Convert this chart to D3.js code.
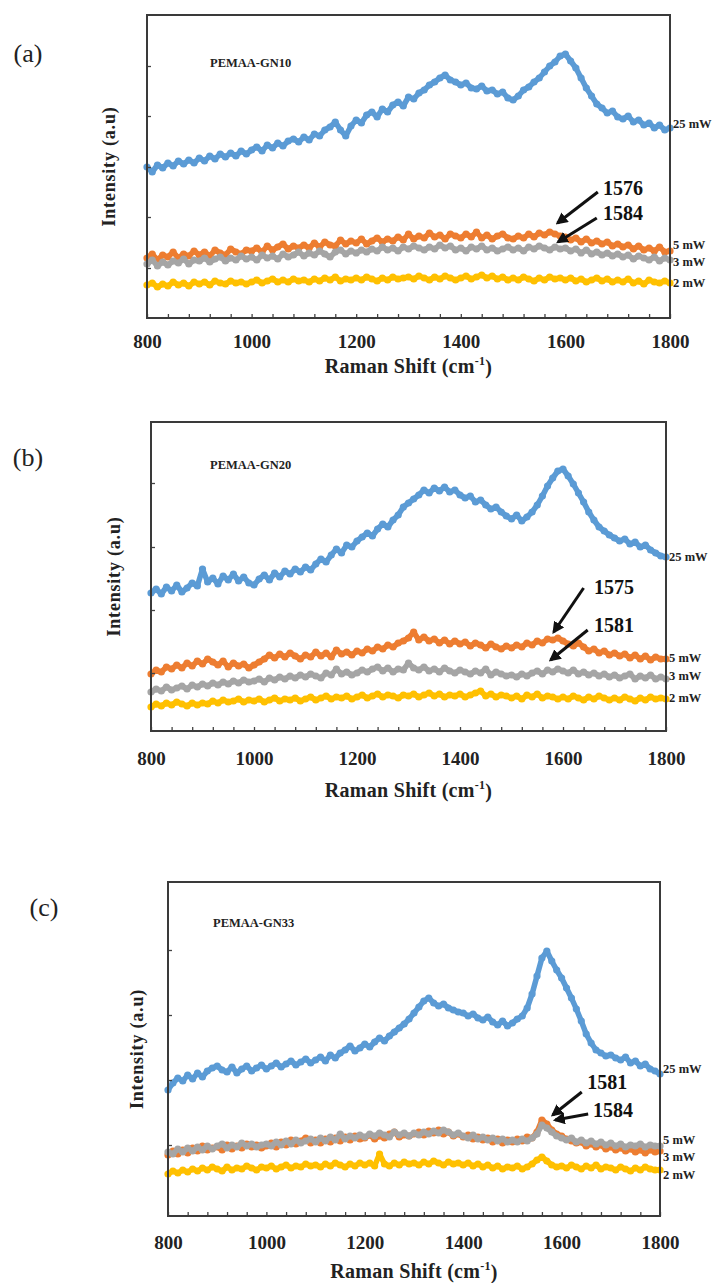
<!DOCTYPE html>
<html>
<head>
<meta charset="utf-8">
<script src="https://cdn.jsdelivr.net/npm/d3@7"></script>
<style>
  body { margin: 0; background: #fff; }
  svg { display: block; font-family: "Liberation Serif", "Times New Roman", serif; }
</style>
</head>
<body>
<svg id="chart" width="727" height="1283"></svg>
<script>
// x grid shared by every spectrum (Raman shift, cm-1)
const shifts = d3.range(800, 1801, 10);
const xLabels = [800, 1000, 1200, 1400, 1600, 1800];
const xMinorTicks = d3.range(800, 1801, 40);

const powers = ["25 mW", "5 mW", "3 mW", "2 mW"];
const sampleNames = ["PEMAA-GN10", "PEMAA-GN20", "PEMAA-GN33"];
const panelLetters = ["(a)", "(b)", "(c)"];

// intensities (a.u.), one value per shift
const gn10_25 = [
  151, 146, 153, 150, 155, 152, 157, 154, 158, 155,
  160, 157, 162, 159, 164, 161, 165, 162, 167, 164,
  168, 171, 167, 173, 170, 175, 172, 177, 179, 176,
  181, 178, 184, 182, 188, 191, 196, 188, 182, 192,
  198, 195, 203, 206, 201, 209, 206, 213, 216, 212,
  221, 219, 225, 228, 233, 236, 240, 243, 238, 236,
  233, 235, 230, 229, 232, 227, 228, 224, 226, 220,
  218, 222, 228, 231, 236, 240, 246, 252, 256, 262,
  264, 257, 250, 240, 230, 222, 214, 210, 205, 207,
  201, 199, 202, 196, 198, 193, 195, 190, 193, 188,
  190];
const gn10_5 = [
  60, 64, 58, 63, 61, 66, 60, 64, 62, 67,
  63, 66, 62, 68, 65, 63, 69, 66, 64, 68,
  67, 70, 66, 72, 68, 71, 74, 69, 72, 70,
  73, 70, 75, 71, 76, 73, 72, 78, 74, 77,
  75, 79, 74, 77, 80, 76, 79, 77, 81, 78,
  84, 79, 82, 80, 85, 81, 83, 79, 84, 82,
  80, 84, 81, 86, 80, 83, 79, 82, 84, 80,
  79, 82, 80, 84, 81, 85, 83, 86, 84, 82,
  81, 78, 80, 76, 79, 75, 77, 74, 76, 72,
  74, 71, 73, 69, 72, 68, 70, 67, 71, 66,
  67];
const gn10_3 = [
  54, 58, 52, 56, 53, 57, 55, 59, 54, 58,
  57, 60, 56, 59, 61, 57, 60, 58, 62, 59,
  61, 58, 63, 60, 62, 59, 64, 61, 63, 66,
  62, 65, 63, 67, 64, 61, 66, 68, 64, 67,
  65, 68, 66, 69, 67, 71, 68, 70, 67, 71,
  69, 72, 70, 68, 71, 69, 73, 70, 72, 68,
  70, 67, 71, 69, 72, 68, 70, 67, 69, 71,
  68, 70, 67, 71, 69, 72, 70, 68, 71, 69,
  70, 67, 69, 65, 68, 64, 66, 63, 65, 62,
  64, 61, 63, 59, 62, 60, 58, 61, 57, 60,
  58];
const gn10_2 = [
  33, 35, 31, 34, 32, 36, 33, 35, 32, 36,
  34, 36, 33, 37, 35, 34, 37, 35, 36, 34,
  36, 38, 35, 37, 39, 36, 38, 36, 39, 37,
  38, 36, 39, 37, 40, 38, 41, 37, 39, 38,
  40, 38, 41, 39, 37, 40, 38, 41, 39, 40,
  41, 39, 42, 40, 38, 41, 39, 42, 40, 38,
  40, 42, 39, 41, 43, 40, 42, 39, 41, 38,
  40, 38, 41, 39, 37, 40, 38, 41, 39, 40,
  38, 40, 37, 39, 36, 38, 40, 37, 39, 36,
  38, 36, 39, 35, 37, 34, 38, 36, 35, 37,
  35];

const gn20_25 = [
  138, 142, 137, 144, 140, 146, 139, 143, 148, 145,
  162, 149, 153, 147, 155, 151, 157, 150, 154, 148,
  146, 152, 156, 151, 158, 154, 160, 157, 162, 159,
  164, 161, 167, 172, 169, 176, 182, 178, 186, 184,
  190, 194, 198, 195, 202, 207, 204, 211, 216, 224,
  228, 232, 236, 241, 238, 243, 240, 244, 239, 241,
  236, 233, 235, 229, 231, 226, 222, 224, 219, 215,
  212, 216, 210, 214, 219, 226, 235, 245, 253, 260,
  262, 255, 247, 238, 229, 219, 211, 204, 200, 196,
  193, 190, 192, 187, 189, 184, 186, 181, 178, 175,
  174];
const gn20_5 = [
  57, 61, 59, 64, 62, 66, 63, 68, 65, 70,
  67, 72, 69, 66, 70, 64, 68, 65, 67, 63,
  66, 69, 72, 76, 73, 77, 74, 78, 75, 72,
  76, 74, 79, 75, 78, 74, 81, 77, 79, 76,
  80, 78, 82, 80, 84, 82, 86, 84, 88, 90,
  93, 99, 91, 94, 90, 92, 88, 91, 87, 90,
  87, 89, 85, 88, 86, 83, 87, 84, 82, 85,
  83, 86, 84, 88, 86, 90, 88, 92, 91, 93,
  90, 87, 85, 88, 84, 80, 82, 78, 80, 76,
  78, 75, 77, 73, 76, 72, 75, 71, 74, 72,
  72];
const gn20_3 = [
  39, 42, 40, 44, 41, 43, 45, 42, 46, 44,
  47, 45, 48, 46, 49, 47, 50, 48, 51, 49,
  50, 52, 49, 53, 51, 54, 52, 55, 53, 56,
  54, 57, 55, 53, 58, 56, 62, 57, 59, 56,
  58, 61, 59, 62, 64, 60, 63, 59, 62, 61,
  68, 63, 61, 64, 60, 62, 59, 63, 60, 58,
  61, 59, 57, 60, 58, 62, 56, 59, 57, 55,
  56, 54, 57, 55, 58, 60, 57, 61, 59, 62,
  60, 58, 61, 57, 59, 56, 58, 55, 57, 54,
  56, 53, 55, 57, 52, 55, 53, 56, 52, 54,
  52];
const gn20_2 = [
  24, 27, 25, 28, 26, 29, 27, 25, 28, 26,
  28, 27, 30, 28, 31, 29, 30, 32, 29, 31,
  30, 32, 29, 31, 33, 30, 32, 31, 33, 30,
  32, 34, 31, 33, 35, 32, 34, 33, 35, 32,
  34, 36, 33, 35, 37, 34, 36, 35, 33, 36,
  35, 37, 34, 36, 38, 35, 37, 34, 36, 35,
  37, 34, 36, 38, 40, 35, 37, 34, 36, 35,
  33, 35, 32, 36, 34, 37, 33, 35, 34, 32,
  34, 32, 35, 33, 31, 34, 32, 35, 33, 31,
  33, 31, 34, 32, 30, 33, 31, 34, 32, 33,
  32];

const gn33_25 = [
  126, 133, 138, 135, 141, 137, 143, 139, 145, 148,
  150, 146, 144, 149, 143, 147, 150, 145, 148, 151,
  147, 150, 153, 149, 152, 155, 151, 154, 157, 153,
  156, 159, 155, 161, 158, 163, 166, 170, 165, 168,
  172, 169, 174, 178, 175, 180, 184, 188, 192, 197,
  203, 209, 215, 218, 213, 210, 212, 208, 206, 204,
  203, 200, 202, 198, 196, 199, 194, 191, 195, 190,
  193, 197, 200, 208, 222, 240, 258, 265, 255, 246,
  238, 228, 218, 207, 195, 182, 173, 166, 163, 160,
  161, 158, 156, 159, 153, 155, 150, 152, 147, 145,
  142];
const gn33_5 = [
  61, 65, 62, 66, 63, 68, 65, 70, 66, 68,
  69, 66, 71, 67, 70, 68, 72, 69, 71, 68,
  70, 73, 69, 74, 71, 76, 72, 75, 78, 73,
  76, 73, 77, 74, 78, 75, 79, 76, 80, 77,
  78, 81, 77, 80, 78, 82, 84, 79, 81, 80,
  82, 84, 81, 85, 83, 86, 82, 84, 80, 82,
  79, 81, 77, 79, 76, 78, 74, 77, 73, 76,
  74, 77, 75, 79, 78, 84, 96, 92, 86, 82,
  80, 77, 75, 73, 74, 70, 72, 69, 71, 67,
  69, 66, 68, 65, 67, 64, 66, 63, 66, 64,
  65];
const gn33_3 = [
  64, 62, 67, 64, 68, 65, 69, 66, 70, 67,
  70, 72, 68, 71, 69, 73, 70, 72, 69, 71,
  72, 70, 74, 71, 75, 72, 76, 73, 75, 77,
  74, 78, 75, 79, 76, 82, 77, 80, 78, 81,
  79, 82, 80, 83, 81, 79, 84, 81, 83, 80,
  83, 81, 84, 82, 85, 83, 86, 84, 81, 83,
  80, 78, 81, 77, 79, 76, 78, 75, 77, 74,
  76, 74, 77, 75, 78, 82, 91, 88, 84, 80,
  78, 76, 78, 74, 76, 73, 75, 72, 74, 71,
  73, 70, 72, 69, 71, 70, 72, 69, 71, 70,
  70];
const gn33_2 = [
  42, 45, 43, 46, 44, 47, 45, 48, 46, 49,
  47, 45, 49, 46, 48, 47, 50, 48, 46, 49,
  48, 50, 47, 49, 51, 48, 50, 49, 52, 50,
  51, 49, 52, 50, 53, 51, 49, 52, 50, 53,
  51, 53, 50, 62, 52, 50, 53, 51, 54, 52,
  53, 51, 54, 52, 55, 53, 51, 54, 52, 53,
  51, 53, 50, 52, 49, 51, 48, 50, 47, 49,
  48, 50, 47, 49, 52, 56, 59, 55, 51, 49,
  50, 48, 51, 49, 47, 50, 48, 51, 47, 49,
  48, 46, 49, 47, 45, 48, 46, 49, 47, 46,
  46];

// where each power label sits at the right edge (intensity units)
const gn10_labelLevels = [194, 73, 56, 35];
const gn20_labelLevels = [174, 73, 55, 33];
const gn33_labelLevels = [147, 76, 59, 41];

// unlabelled ticks on the intensity axis
const gn10_yTicks = [50, 101, 151, 202, 252];
const gn20_yTicks = [58, 121, 184, 248];
const gn33_yTicks = [71, 136, 201, 266];

// peak call-outs: text, arrow tip, arrow tail, text anchor (shift, intensity)
const gn10_peaks = [
  { label: "1576", tip: [1585, 95], tail: [1662, 126], at: [1672, 123] },
  { label: "1584", tip: [1586, 76], tail: [1660, 100], at: [1672, 98] }
];
const gn20_peaks = [
  { label: "1575", tip: [1582, 99], tail: [1640, 143], at: [1660, 137] },
  { label: "1581", tip: [1576, 71], tail: [1648, 101], at: [1660, 99] }
];
const gn33_peaks = [
  { label: "1581", tip: [1582, 101], tail: [1641, 124], at: [1652, 127] },
  { label: "1584", tip: [1587, 96], tail: [1654, 102], at: [1664, 99] }
];

const panels = [
  { series: [gn10_25, gn10_5, gn10_3, gn10_2], levels: gn10_labelLevels, yTicks: gn10_yTicks, peaks: gn10_peaks },
  { series: [gn20_25, gn20_5, gn20_3, gn20_2], levels: gn20_labelLevels, yTicks: gn20_yTicks, peaks: gn20_peaks },
  { series: [gn33_25, gn33_5, gn33_3, gn33_2], levels: gn33_labelLevels, yTicks: gn33_yTicks, peaks: gn33_peaks }
];

const colors = ["#5b9bd5", "#ed7d31", "#a5a5a5", "#ffc000"];

// frame boxes and text placement, in page pixels
const layout = [
  { left: 147, top: 15, right: 670, bottom: 318, labelPad: 17, titleY: 366, letterX: 28, letterY: 53, nameX: 210, nameY: 63, yTitleX: 109 },
  { left: 151, top: 422, right: 666, bottom: 731, labelPad: 21, titleY: 790, letterX: 28, letterY: 457, nameX: 210, nameY: 465, yTitleX: 114 },
  { left: 168, top: 882, right: 660, bottom: 1216, labelPad: 20, titleY: 1271, letterX: 44, letterY: 907, nameX: 213, nameY: 923, yTitleX: 137 }
];

const svg = d3.select("#chart");

svg.append("defs").append("marker")
  .attr("id", "arrow")
  .attr("viewBox", "0 0 10 10")
  .attr("refX", 8)
  .attr("refY", 5)
  .attr("markerWidth", 4)
  .attr("markerHeight", 4)
  .attr("orient", "auto")
  .append("path")
  .attr("d", "M0,0L10,5L0,10z")
  .attr("fill", "#111");

function drawPanel(p, i) {
  const L = layout[i];
  const g = svg.append("g");

  const x = d3.scaleLinear().domain([800, 1800]).range([L.left, L.right]);
  const y = d3.scaleLinear().domain([0, L.bottom - L.top]).range([L.bottom, L.top]);

  const line = d3.line()
    .x((d, j) => x(shifts[j]))
    .y(d => y(d));

  // spectra, 25 mW first so the low-power ones sit on top;
  // a thick trace under the markers gives the dense band look
  p.series.forEach((vals, k) => {
    const s = g.append("g");
    s.append("path")
      .datum(vals)
      .attr("d", line)
      .attr("fill", "none")
      .attr("stroke", colors[k])
      .attr("stroke-width", 5.5)
      .attr("stroke-linejoin", "round")
      .attr("stroke-linecap", "round");
    s.selectAll("circle")
      .data(vals)
      .join("circle")
      .attr("cx", (d, j) => x(shifts[j]))
      .attr("cy", d => y(d))
      .attr("r", 3.6)
      .attr("fill", colors[k]);
  });

  // minor ticks pointing inside
  g.append("g")
    .attr("transform", "translate(0," + L.bottom + ")")
    .call(d3.axisBottom(x).tickValues(xMinorTicks).tickSizeInner(-4).tickSizeOuter(0).tickFormat(""))
    .call(a => a.select(".domain").remove())
    .selectAll("line").attr("stroke", "#444").attr("stroke-width", 1.3);

  g.append("g")
    .attr("transform", "translate(" + L.left + ",0)")
    .call(d3.axisLeft(y).tickValues(p.yTicks).tickSizeInner(-4).tickSizeOuter(0).tickFormat(""))
    .call(a => a.select(".domain").remove())
    .selectAll("line").attr("stroke", "#444").attr("stroke-width", 1.3);

  // tick labels
  g.append("g")
    .attr("transform", "translate(0," + L.bottom + ")")
    .call(d3.axisBottom(x).tickValues(xLabels).tickSize(0).tickPadding(L.labelPad).tickFormat(d3.format("d")))
    .call(a => a.select(".domain").remove())
    .attr("font-family", null)
    .selectAll("text")
    .attr("font-size", 19)
    .attr("font-weight", "bold")
    .attr("fill", "#222");

  // frame
  g.append("rect")
    .attr("x", L.left).attr("y", L.top)
    .attr("width", L.right - L.left).attr("height", L.bottom - L.top)
    .attr("fill", "none").attr("stroke", "#3a3a3a").attr("stroke-width", 2);

  // axis titles
  const xt = g.append("text")
    .attr("x", (L.left + L.right) / 2).attr("y", L.titleY)
    .attr("dy", "0.35em")
    .attr("text-anchor", "middle")
    .attr("font-size", 20).attr("font-weight", "bold").attr("fill", "#222")
    .attr("letter-spacing", 0.3)
    .text("Raman Shift (cm");
  xt.append("tspan").attr("font-size", 12).attr("dy", "-0.7em").text("-1");
  xt.append("tspan").attr("dy", "0.45em").text(")");

  g.append("text")
    .attr("transform", "translate(" + L.yTitleX + "," + (L.top + L.bottom) / 2 + ") rotate(-90)")
    .attr("dy", "0.35em")
    .attr("text-anchor", "middle")
    .attr("font-size", 18).attr("font-weight", "bold").attr("fill", "#222")
    .attr("letter-spacing", 0.8)
    .text("Intensity (a.u)");

  g.append("text")
    .attr("x", L.letterX).attr("y", L.letterY)
    .attr("dy", "0.35em")
    .attr("text-anchor", "middle")
    .attr("font-size", 26).attr("fill", "#222")
    .text(panelLetters[i]);

  g.append("text")
    .attr("x", L.nameX).attr("y", L.nameY)
    .attr("dy", "0.35em")
    .attr("font-size", 12.5).attr("font-weight", "bold").attr("fill", "#222")
    .text(sampleNames[i]);

  // power labels on the right
  g.append("g")
    .selectAll("text")
    .data(powers)
    .join("text")
    .attr("x", L.right + 3)
    .attr("y", (d, k) => y(p.levels[k]))
    .attr("dy", "0.35em")
    .attr("font-size", 12.5).attr("font-weight", "bold").attr("fill", "#222")
    .text(d => d);

  // peak arrows
  const pk = g.append("g").selectAll("g").data(p.peaks).join("g");
  pk.append("line")
    .attr("x1", d => x(d.tail[0])).attr("y1", d => y(d.tail[1]))
    .attr("x2", d => x(d.tip[0])).attr("y2", d => y(d.tip[1]))
    .attr("stroke", "#111").attr("stroke-width", 3)
    .attr("marker-end", "url(#arrow)");
  pk.append("text")
    .attr("x", d => x(d.at[0])).attr("y", d => y(d.at[1]))
    .attr("font-size", 20).attr("font-weight", "bold").attr("fill", "#111")
    .text(d => d.label);
}

panels.forEach(drawPanel);
</script>
</body>
</html>
